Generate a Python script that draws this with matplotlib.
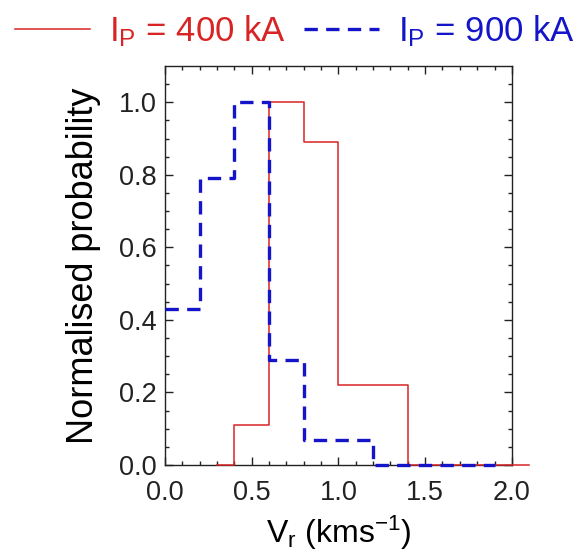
import numpy as np
import matplotlib
matplotlib.use("Agg")
import matplotlib.pyplot as plt

plt.rcParams['font.family'] = ['Liberation Sans', 'DejaVu Sans']
plt.rcParams['mathtext.fontset'] = 'custom'
plt.rcParams['mathtext.rm'] = 'Liberation Sans'
plt.rcParams['mathtext.it'] = 'Liberation Sans:italic'

# histogram step edges and normalised probabilities
red_x = [0.3, 0.4, 0.6, 0.8, 1.0, 1.2, 1.4, 2.1]
red_y = [0.0, 0.11, 1.0, 0.89, 0.22, 0.22, 0.0, 0.0]
blue_x = [0.0, 0.2, 0.4, 0.6, 0.8, 1.0, 1.2, 1.9]
blue_y = [0.43, 0.79, 1.0, 0.29, 0.07, 0.07, 0.0, 0.0]

red_label = r'I$_\mathrm{P}$ = 400 kA'
blue_label = r'I$_\mathrm{P}$ = 900 kA'

fig = plt.figure(figsize=(5.82, 5.58), dpi=100)
ax = fig.add_axes([0.2835, 0.1667, 0.596, 0.715])

red_c = '#d82424'
blue_c = '#1414c8'
l1, = ax.plot(red_x, red_y, drawstyle='steps-post', color=red_c, lw=1.1,
              clip_on=False, zorder=3)
l2, = ax.plot(blue_x, blue_y, drawstyle='steps-post', color=blue_c, lw=2.4,
              linestyle=(0, (4, 2.5)), clip_on=False, zorder=3)

ax.set_xlim(0, 2.0)
ax.set_ylim(0, 1.1)
ax.set_xticks(np.arange(0, 2.01, 0.5))
ax.set_xticks(np.arange(0, 2.01, 0.1), minor=True)
ax.set_yticks(np.arange(0, 1.01, 0.2))
ax.set_yticks(np.arange(0, 1.1, 0.05), minor=True)
ax.xaxis.set_major_formatter(matplotlib.ticker.FormatStrFormatter('%.1f'))
ax.yaxis.set_major_formatter(matplotlib.ticker.FormatStrFormatter('%.1f'))
ax.tick_params(which='both', direction='in', top=True, right=True,
               labelsize=19.5, colors='#222222', width=1.0)
ax.tick_params(which='major', length=6)
ax.tick_params(axis='x', which='major', pad=11)
ax.tick_params(axis='y', which='major', pad=6)
ax.tick_params(which='minor', length=3)
for s in ax.spines.values():
    s.set_linewidth(1.0)
    s.set_color('#222222')

ax.set_xlabel(r'V$_\mathrm{r}$ (kms$^\mathrm{-1}$)', fontsize=23, labelpad=5)
ax.set_ylabel('Normalised probability', fontsize=26, labelpad=13)

leg = fig.legend([l1, l2], [red_label, blue_label], ncol=2, loc='center',
                 bbox_to_anchor=(0.507, 0.945), frameon=False, fontsize=25,
                 handlelength=2.15, columnspacing=0.52, handletextpad=0.55,
                 labelcolor='linecolor', borderpad=0.0)

fig.savefig('out.png', dpi=100)
